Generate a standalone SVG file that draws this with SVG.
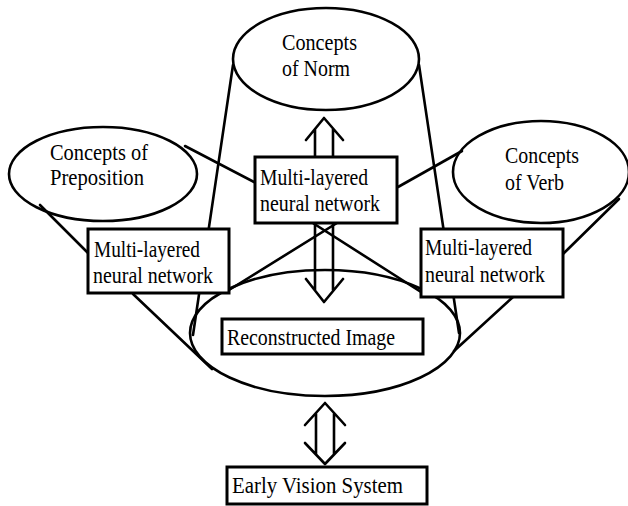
<svg xmlns="http://www.w3.org/2000/svg" width="628" height="506" viewBox="0 0 628 506">
<style>
.ln{stroke:#000;stroke-width:2.6;fill:none;stroke-linecap:round;stroke-linejoin:round}
.box{stroke:#000;stroke-width:3;fill:#fff}
.t{font-family:"Liberation Serif","Times New Roman",serif;font-size:24px;fill:#000}
</style>
<rect width="628" height="506" fill="#fff"/>
<g id="connectors">
  <line class="ln" x1="233" y1="65" x2="193" y2="335"/>
  <line class="ln" x1="419" y1="65" x2="459" y2="333"/>
  <line class="ln" x1="40" y1="205" x2="88" y2="253"/>
  <line class="ln" x1="185" y1="146" x2="256" y2="183"/>
  <line class="ln" x1="398" y1="187" x2="462" y2="151"/>
  <line class="ln" x1="619" y1="199" x2="563" y2="254"/>
  <line class="ln" x1="133" y1="294" x2="212" y2="369"/>
  <line class="ln" x1="513" y1="297" x2="454" y2="351"/>
  <line class="ln" x1="229" y1="290" x2="345" y2="218"/>
  <line class="ln" x1="421" y1="292" x2="305" y2="218"/>
  <path class="ln" d="M306,140 L324,118 L343,140 M315,129 L315,290 M333,129 L333,290 M306,279 L324,302 L343,279"/>
  <path class="ln" d="M305,425 L325,403 L345,425 M316,414 L316,454 M334,414 L334,454 M305,443 L325,464 L345,443"/>
</g>
<g id="norm">
  <ellipse class="ln" cx="326" cy="59" rx="93" ry="51"/>
  <text class="t" x="282" y="50" textLength="75" lengthAdjust="spacingAndGlyphs">Concepts</text>
  <text class="t" x="282" y="76" textLength="68" lengthAdjust="spacingAndGlyphs">of Norm</text>
</g>
<g id="preposition">
  <ellipse class="ln" cx="103" cy="174" rx="94" ry="47"/>
  <text class="t" x="50" y="160" textLength="98" lengthAdjust="spacingAndGlyphs">Concepts of</text>
  <text class="t" x="50" y="185" textLength="94" lengthAdjust="spacingAndGlyphs">Preposition</text>
</g>
<g id="verb">
  <ellipse class="ln" cx="541" cy="172" rx="88" ry="51"/>
  <text class="t" x="505" y="163" textLength="74" lengthAdjust="spacingAndGlyphs">Concepts</text>
  <text class="t" x="505" y="190" textLength="59" lengthAdjust="spacingAndGlyphs">of Verb</text>
</g>
<g id="image-ellipse">
  <ellipse class="ln" cx="325" cy="333" rx="135" ry="63"/>
</g>
<g id="nn-center">
  <rect class="box" x="255" y="157" width="142" height="66"/>
  <text class="t" x="260" y="185" textLength="108" lengthAdjust="spacingAndGlyphs">Multi-layered</text>
  <text class="t" x="260" y="211" textLength="120" lengthAdjust="spacingAndGlyphs">neural network</text>
</g>
<g id="nn-left">
  <rect class="box" x="88" y="229" width="141" height="64"/>
  <text class="t" x="94" y="257" textLength="106" lengthAdjust="spacingAndGlyphs">Multi-layered</text>
  <text class="t" x="93" y="283" textLength="120" lengthAdjust="spacingAndGlyphs">neural network</text>
</g>
<g id="nn-right">
  <rect class="box" x="421" y="229" width="142" height="68"/>
  <text class="t" x="425" y="255" textLength="107" lengthAdjust="spacingAndGlyphs">Multi-layered</text>
  <text class="t" x="425" y="282" textLength="120" lengthAdjust="spacingAndGlyphs">neural network</text>
</g>
<g id="reconstructed">
  <rect class="box" x="222" y="319" width="201" height="35"/>
  <text class="t" x="227" y="345" textLength="168" lengthAdjust="spacingAndGlyphs">Reconstructed Image</text>
</g>
<g id="early-vision">
  <rect class="box" x="227" y="467" width="200" height="37"/>
  <text class="t" x="232" y="493" textLength="171" lengthAdjust="spacingAndGlyphs">Early Vision System</text>
</g>
</svg>
